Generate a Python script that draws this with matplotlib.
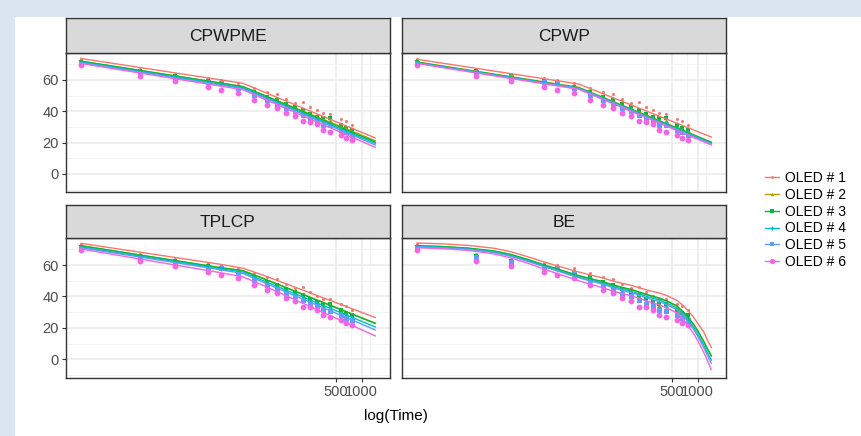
import numpy as np
import matplotlib
matplotlib.use("Agg")
import matplotlib.pyplot as plt
from matplotlib.patches import Rectangle
from matplotlib.lines import Line2D
from matplotlib.ticker import NullFormatter

plt.rcParams['font.family'] = ['Liberation Sans', 'DejaVu Sans']

# measured data (same in every panel)
times = [0.5, 2.5, 6.4, 15.6, 22, 35, 54, 77, 101, 129, 165, 205, 247, 299, 351, 425, 573, 656, 771]
oled1 = [73.2, 66.8, 63.8, 61.5, 60.0, 57.9, 55.1, 52.1, 50.9, 47.7, 45.1, 45.8, 43.0, 40.6, 38.7, 38.3, 35.1, 34.0, 31.3]
oled2 = [71.3, 65.5, 62.2, 59.2, 58.0, 55.3, 52.0, 48.8, 46.6, 44.0, 42.3, 40.2, 37.5, 36.0, 34.8, 34.6, 30.5, 29.0, 27.5]
oled3 = [71.5, 65.8, 62.5, 59.5, 58.3, 55.7, 52.5, 49.3, 47.2, 44.7, 43.0, 40.8, 38.1, 36.6, 35.5, 35.5, 31.3, 29.6, 28.1]
oled4 = [71.0, 65.2, 62.0, 58.8, 57.5, 54.8, 51.5, 48.0, 45.8, 43.0, 41.2, 39.0, 36.5, 35.0, 33.5, 33.0, 29.5, 28.0, 26.5]
oled5 = [71.0, 65.3, 61.7, 58.9, 57.9, 54.7, 50.5, 47.0, 44.5, 41.8, 40.0, 37.5, 35.5, 33.8, 31.5, 31.0, 28.0, 26.5, 25.0]
oled6 = [69.6, 62.5, 59.6, 55.7, 53.5, 51.7, 47.4, 44.0, 42.3, 39.0, 37.2, 33.5, 33.4, 31.7, 28.1, 27.0, 24.9, 22.8, 21.7]
observed = [oled1, oled2, oled3, oled4, oled5, oled6]

labels = ['OLED # 1', 'OLED # 2', 'OLED # 3', 'OLED # 4', 'OLED # 5', 'OLED # 6']
colors = ['#F8766D', '#B79F00', '#00BA38', '#00BFC4', '#619CFF', '#F564E3']
markers = ['o', '^', 's', '+', 's', 'o']
msizes = [2.2, 2.8, 2.8, 3.5, 3.6, 4.2]

panels = ['CPWPME', 'CPWP', 'TPLCP', 'BE']

# fitted model curves, read at a few times
fit_t_pw = [0.5, 40, 1450]
cpwpme_fit = [
    [73.7, 57.9, 23.0],
    [72.0, 55.8, 21.2],
    [72.0, 55.8, 20.4],
    [71.5, 55.0, 19.5],
    [71.0, 54.5, 18.5],
    [70.5, 53.8, 17.0],
]
cpwp_fit = [
    [73.2, 57.4, 23.6],
    [71.5, 55.3, 20.4],
    [71.3, 55.0, 20.1],
    [71.0, 54.8, 19.6],
    [70.8, 54.5, 19.2],
    [70.5, 54.0, 18.5],
]
fit_t_tplcp = [0.5, 20, 40, 70, 1450]
tplcp_fit = [
    [73.8, 60.8, 58.0, 53.5, 26.6],
    [72.3, 58.6, 56.5, 51.5, 23.0],
    [72.3, 58.6, 56.4, 51.3, 22.8],
    [71.5, 58.0, 55.5, 50.0, 20.6],
    [71.0, 57.3, 54.7, 49.0, 18.7],
    [70.2, 55.5, 52.5, 47.0, 14.9],
]
fit_t_be = [0.5, 1, 2, 4, 6.3, 10, 15.5, 24, 35, 50, 72, 110, 176, 250, 364, 450, 573, 700, 893, 1000, 1180, 1300, 1450]
be_fit = [
    [74.0, 73.5, 72.5, 70.7, 68.5, 65.3, 62.0, 59.0, 56.4, 54.2, 52.1, 49.3, 46.7, 44.2, 42.0, 40.2, 37.5, 33.5, 27.0, 23.0, 17.5, 12.5, 7.5],
    [72.2, 71.7, 70.6, 68.8, 66.6, 63.4, 60.0, 56.8, 54.0, 51.7, 49.6, 46.6, 43.8, 41.1, 38.6, 36.5, 33.7, 29.2, 22.1, 18.1, 11.1, 6.5, 2.0],
    [72.3, 71.8, 70.8, 69.0, 66.8, 63.6, 60.2, 57.0, 54.2, 51.9, 49.8, 46.8, 44.0, 41.3, 38.8, 36.8, 34.0, 29.5, 22.5, 18.5, 11.5, 7.0, 2.5],
    [71.8, 71.3, 70.2, 68.3, 66.0, 62.8, 59.4, 56.2, 53.2, 50.9, 48.8, 45.7, 42.8, 40.1, 37.5, 35.4, 32.5, 28.0, 20.6, 16.3, 9.2, 4.5, -0.5],
    [71.5, 71.0, 70.0, 68.0, 65.6, 62.4, 59.0, 55.7, 52.8, 50.4, 48.2, 45.0, 42.0, 39.2, 36.5, 34.4, 31.5, 26.8, 19.2, 14.8, 7.5, 2.7, -2.5],
    [71.0, 70.4, 69.3, 67.1, 64.6, 61.2, 57.5, 54.0, 51.0, 48.4, 46.0, 42.8, 40.0, 37.2, 34.5, 32.3, 29.5, 24.5, 16.5, 12.0, 4.5, -0.5, -6.5],
]
fits = [(fit_t_pw, cpwpme_fit), (fit_t_pw, cpwp_fit), (fit_t_tplcp, tplcp_fit), (fit_t_be, be_fit)]

fig = plt.figure(figsize=(8.61, 4.36), dpi=100)
fig.patch.set_facecolor('#dbe5f1')
fig.patches.append(Rectangle((15 / 861, 0), 1, 1 - 17 / 436, transform=fig.transFigure,
                             facecolor='white', edgecolor='none', zorder=-10))

W, H = 861, 436
px_left = [65.7, 401.7]
px_panel_w = 324.3
px_rows = [(18.3, 52.7, 192.3), (205.0, 237.7, 377.7)]

for i, name in enumerate(panels):
    r, c = divmod(i, 2)
    st_top, st_bot, p_bot = px_rows[r]
    x0 = px_left[c] / W
    w = px_panel_w / W
    ax = fig.add_axes([x0, 1 - p_bot / H, w, (p_bot - st_bot) / H])
    sx = fig.add_axes([x0, 1 - st_bot / H, w, (st_bot - st_top) / H])

    # strip
    sx.set_facecolor('#d9d9d9')
    sx.set_xticks([])
    sx.set_yticks([])
    for s in sx.spines.values():
        s.set_color('#333333')
        s.set_linewidth(1.0)
    sx.text(0.5, 0.47, name, ha='center', va='center', fontsize=12.5, color='#1a1a1a',
            transform=sx.transAxes)

    ax.set_xscale('log')
    ax.set_xlim(0.33, 2160)
    ax.set_ylim(-11.7, 77.4)
    ax.set_xticks([500, 1000])
    ax.set_xticks([250, 750, 1250], minor=True)
    ax.xaxis.set_minor_formatter(NullFormatter())
    ax.set_yticks([0, 20, 40, 60])
    ax.set_yticks([-10, 10, 30, 50, 70], minor=True)
    ax.grid(which='major', color='#ebebeb', linewidth=1.1, zorder=0)
    ax.grid(which='minor', color='#f2f2f2', linewidth=0.6, zorder=0)
    ax.set_axisbelow(True)
    for s in ax.spines.values():
        s.set_color('#333333')
        s.set_linewidth(1.0)
    ax.tick_params(which='minor', length=0)
    ax.tick_params(which='major', length=3, color='#333333', labelsize=10.5,
                   labelcolor='#4d4d4d', pad=2)
    if r == 0:
        ax.tick_params(axis='x', which='major', length=0, labelbottom=False)
    else:
        ax.set_xticklabels(['500', '1000'])
    if c == 1:
        ax.tick_params(axis='y', which='major', length=0, labelleft=False)

    ft, fv = fits[i]
    for k in range(6):
        ax.plot(times, observed[k], linestyle='none', marker=markers[k], ms=msizes[k],
                color=colors[k], mew=1.0 if markers[k] == '+' else 0, zorder=3)
    for k in range(6):
        ax.plot(ft, fv[k], color=colors[k], linewidth=1.0, zorder=4)

fig.text(396 / W, 1 - 416 / H, 'log(Time)', ha='center', va='center', fontsize=11, color='black')

handles = [Line2D([0], [0], color=colors[k], lw=1.0, marker=markers[k], ms=msizes[k] * 0.9,
                  mew=1.0 if markers[k] == '+' else 0) for k in range(6)]
fig.legend(handles, labels, loc='center left', bbox_to_anchor=(758 / W, 1 - 220 / H),
           frameon=False, fontsize=10, handlelength=1.0, handletextpad=0.45,
           labelspacing=0.2, borderpad=0)

fig.savefig('out.png', dpi=100)
